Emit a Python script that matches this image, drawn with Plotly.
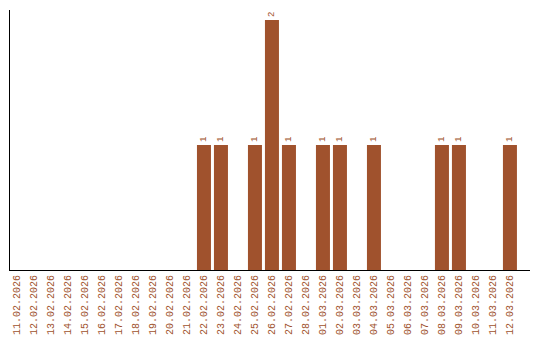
import plotly.graph_objects as go

dates = ["11.02.2026", "12.02.2026", "13.02.2026", "14.02.2026", "15.02.2026",
         "16.02.2026", "17.02.2026", "18.02.2026", "19.02.2026", "20.02.2026",
         "21.02.2026", "22.02.2026", "23.02.2026", "24.02.2026", "25.02.2026",
         "26.02.2026", "27.02.2026", "28.02.2026", "01.03.2026", "02.03.2026",
         "03.03.2026", "04.03.2026", "05.03.2026", "06.03.2026", "07.03.2026",
         "08.03.2026", "09.03.2026", "10.03.2026", "11.03.2026", "12.03.2026"]
counts = [0, 0, 0, 0, 0, 0, 0, 0, 0, 0,
          0, 1, 1, 0, 1, 2, 1, 0, 1, 1,
          0, 1, 0, 0, 0, 1, 1, 0, 0, 1]

color = "#A0522D"
labels = [str(v) if v > 0 else "" for v in counts]

fig = go.Figure(go.Bar(
    x=list(range(len(dates))), y=counts,
    marker=dict(color=color, line=dict(width=0)),
    text=labels, textposition="outside", textangle=-90,
    textfont=dict(family="Liberation Mono", size=9, color=color),
    cliponaxis=False,
))

fig.update_layout(
    width=540, height=340,
    margin=dict(l=10, r=10, t=10, b=70),
    paper_bgcolor="white", plot_bgcolor="white",
    bargap=0.176,
    showlegend=False,
    font=dict(family="Liberation Mono", size=10, color=color),
    xaxis=dict(
        tickmode="array", tickvals=list(range(len(dates))), ticktext=dates,
        tickangle=-90, range=[-0.41, 30.18], automargin=False,
        showline=True, linecolor="black", linewidth=1,
        showgrid=False, zeroline=False, ticks="",
        tickfont=dict(family="Liberation Mono", size=10, color=color),
    ),
    yaxis=dict(
        range=[0, 2.08], showline=True, linecolor="black", linewidth=1,
        showgrid=False, zeroline=False, showticklabels=False, ticks="",
        automargin=False,
    ),
)

fig.write_html("out.html")
